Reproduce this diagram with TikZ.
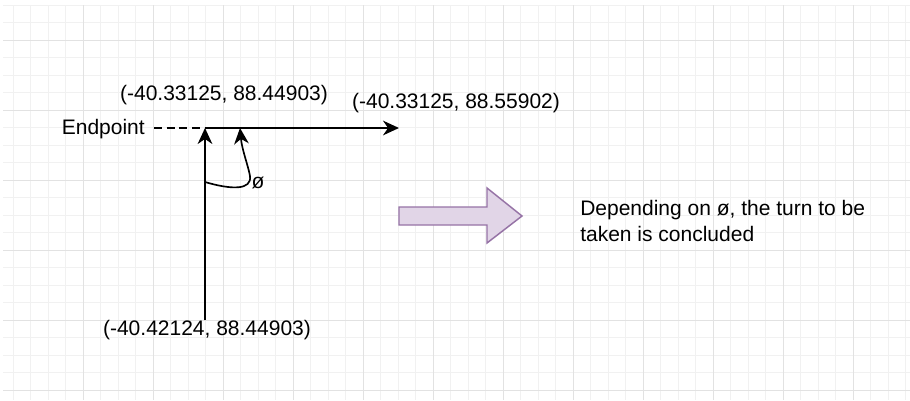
\documentclass[tikz,border=0pt]{standalone}
\usepackage{fontspec}
\setmainfont{Liberation Sans}
\usetikzlibrary{arrows.meta}

\definecolor{gridminor}{HTML}{F1F1F1}
\definecolor{gridmajor}{HTML}{E2E2E2}
\definecolor{blockfill}{HTML}{E1D5E7}
\definecolor{blockline}{HTML}{9673A6}

\tikzset{
  lbl/.style={inner sep=0pt, font=\fontsize{15.75}{18}\selectfont},
  edge/.style={line width=1.25pt, black},
  tip/.style={-{Stealth[length=12pt, width=11pt, inset=3.8pt]}},
}

\begin{document}
\begin{tikzpicture}[x=0.75pt, y=-0.75pt]
  \useasboundingbox (0,0) rectangle (910,400);
  \fill[white] (0,0) rectangle (910,400);

  % background grid: minor lines every 17.5px, major every 70px
  \foreach \i in {0,...,51} {
    \pgfmathsetmacro{\gx}{13+17.5*\i}
    \draw[gridminor, line width=0.75pt] (\gx,5) -- (\gx,400);
  }
  \foreach \j in {0,...,22} {
    \pgfmathsetmacro{\gy}{5+17.5*\j}
    \draw[gridminor, line width=0.75pt] (3,\gy) -- (910,\gy);
  }
  \foreach \i in {0,...,11} {
    \pgfmathsetmacro{\gx}{83+70*\i}
    \draw[gridmajor, line width=0.75pt] (\gx,5) -- (\gx,400);
  }
  \foreach \j in {0,...,5} {
    \pgfmathsetmacro{\gy}{40+70*\j}
    \draw[gridmajor, line width=0.75pt] (3,\gy) -- (910,\gy);
  }

  % reference points
  \coordinate (corner) at (205,128);
  \coordinate (bottom) at (205,320);
  \coordinate (right) at (399,128);
  \coordinate (dashend) at (154,128);
  \coordinate (phistart) at (205,182);
  \coordinate (phitip) at (240,128);

  % labels
  \node[lbl] (cornerlbl) at (224,95) {(-40.33125, 88.44903)};
  \node[lbl] (rightlbl) at (456,103) {(-40.33125, 88.55902)};
  \node[lbl] (bottomlbl) at (207,330) {(-40.42124, 88.44903)};
  \node[lbl, anchor=east] (endpoint) at (145,129) {Endpoint};
  \node[lbl] (phi) at (258,183) {ø};

  % heading segments
  \draw[edge, dashed, dash pattern=on 6pt off 3.5pt] (dashend) -- (corner);
  \draw[edge, tip] (bottom) -- (corner);
  \draw[edge, tip] (corner) -- (right);

  % angle arc
  \draw[edge, tip] (phistart) .. controls (232,190) and (252,190) .. (250,176)
                   .. controls (248,165) and (242,150) .. (phitip);

  % block arrow
  \draw[blockline, fill=blockfill, line width=1.1pt, line join=miter]
    (399,207) -- (487,207) -- (487,188) -- (522,216) -- (487,243)
    -- (487,225) -- (399,225) -- cycle;

  % conclusion text
  \node[lbl, anchor=west, align=left, font=\fontsize{15.75}{19}\selectfont]
    (result) at (580,221) {Depending on ø, the turn to be\\taken is concluded};
\end{tikzpicture}
\end{document}
